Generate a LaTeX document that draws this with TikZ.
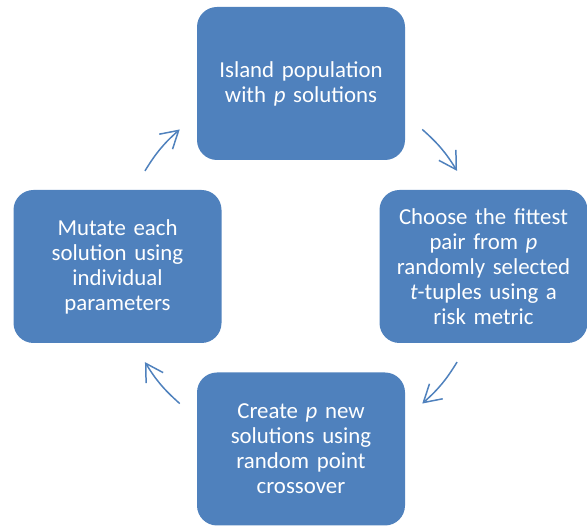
\documentclass[tikz,border=0pt]{standalone}
\usepackage{fontspec}
\setmainfont{Carlito}
\usepackage{tikz}
\usetikzlibrary{arrows.meta}
\definecolor{stageblue}{HTML}{4F81BD}
\tikzset{>={Straight Barb[length=3.4mm,width=4mm]}}
\tikzset{stage/.style={fill=stageblue,text=white,rounded corners=0.4cm,
  minimum width=4.16cm,minimum height=3.06cm,text width=3.9cm,align=center,
  font=\fontsize{13}{14.2}\selectfont,inner sep=0pt}}

\begin{document}
\begin{tikzpicture}
    \useasboundingbox (0,0) rectangle (11.74,10.54);
    \coordinate (hub) at (6.02,5.21);
    \node[stage] (island) at (6.02,8.87) {Island population\\with \textit{p} solutions};
    \node[stage] (choose) at (9.67,5.21) {Choose the fittest\\pair from \textit{p}\\randomly selected\\\textit{t}-tuples using a\\risk metric};
    \node[stage] (create) at (6.02,1.56) {Create \textit{p} new\\solutions using\\random point\\crossover};
    \node[stage] (mutate) at (2.35,5.21) {Mutate each\\solution using\\individual\\parameters};
    \foreach\ang/\name in {140/tl,40/tr,-40/br,-140/bl}{
     \coordinate (\name-s) at ([shift={(\ang+8.5:3.66cm)}]hub);
     \coordinate (\name-e) at ([shift={(\ang-8.5:3.66cm)}]hub);
     \draw[->,stageblue,line width=0.85pt] (\name-s) to[bend left=8.5] (\name-e);}
  \end{tikzpicture}
\end{document}
